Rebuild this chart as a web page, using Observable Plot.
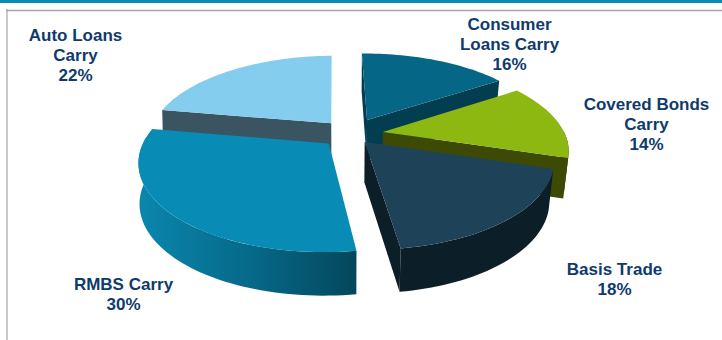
<!DOCTYPE html>
<html>
<head>
<meta charset="utf-8">
<script src="https://cdn.jsdelivr.net/npm/d3@7"></script>
<script src="https://cdn.jsdelivr.net/npm/@observablehq/plot@0.6"></script>
<style>
  html, body { margin: 0; padding: 0; background: #fff; }
  svg { display: block; }
</style>
</head>
<body>
<div id="chart"></div>
<script>
// Portfolio allocation, clockwise from twelve o'clock.
const names = ["Consumer\nLoans Carry", "Covered Bonds\nCarry", "Basis Trade", "RMBS Carry", "Auto Loans\nCarry"];
const shares = [16, 14, 18, 30, 22];
const topColors = ["#056785", "#8DB711", "#1E4257", "#088BB5", "#85CDEE"];
const sideColors = ["#033E50", "#3C4A05", "#0C1E27", "url(#rmbsWall)", "#3A5462"];
const explodeBy = [0.195, 0.18, 0.12, 0.16, 0.17];
const labelX = [509, 646, 614, 123, 75];
const labelY = [43, 123, 278, 293, 54];

// Projection of the tilted pie: ground-plane units to page units.
const cx = 350, cy = 133.5, rx = 182, ry = 84, tilt = 0.19, thickness = 40, startAngle = -1 * Math.PI / 180;
const project = (X, Y, lower = false) => {
  const s = 1 + tilt * Y;
  const px = cx + rx * X / s, py = cy - ry * Y / s;
  return lower
    ? {x: cx + (px - cx) * (px > cx ? 0.977 : 0.995), y: cy + thickness + (py - cy) * 1.03}
    : {x: px, y: py};
};

const total = d3.sum(shares);
const rad = (turn) => turn * 2 * Math.PI;
let running = 0;
const slices = shares.map((v, i) => {
  const a0 = rad(running / total);
  running += v;
  const a1 = rad(running / total);
  const mid = (a0 + a1) / 2;
  return {i, a0, a1, ox: explodeBy[i] * Math.sin(mid), oy: explodeBy[i] * Math.cos(mid)};
});

const rim = (s, a, lower) => project(s.ox + Math.sin(a + startAngle), s.oy + Math.cos(a + startAngle), lower);
const hub = (s, lower) => project(s.ox, s.oy, lower);
const arc = (s, from, to, lower) => {
  const n = Math.max(2, Math.ceil((to - from) / 0.03));
  return d3.range(n + 1).map((k) => rim(s, from + (to - from) * k / n, lower));
};

const face = (points, fill) =>
  Plot.line(points, {x: "x", y: "y", fill, stroke: "none", curve: "linear-closed"});

// Each slice is painted as its visible walls and then its top face.
const sliceMarks = (s) => {
  const side = sideColors[s.i];
  const radial = (a) => face([hub(s), rim(s, a), rim(s, a, true), hub(s, true)], side);
  const marks = [];
  const from = Math.max(s.a0, Math.PI / 2), to = Math.min(s.a1, rad(0.765));
  if (from < to) marks.push(face([...arc(s, from, to), ...arc(s, from, to, true).reverse()], side));
  if (Math.sin(s.a0) <= 1e-9) marks.push(radial(s.a0));
  if (Math.sin(s.a1) > 1e-9) marks.push(radial(s.a1));
  marks.push(face([hub(s), ...arc(s, s.a0, s.a1)], topColors[s.i]));
  return marks;
};

// Back slices first, so the nearer ones overlap them.
const paintOrder = [4, 0, 1, 3, 2];

const labels = slices.map((s) => ({
  text: `${names[s.i]}\n${shares[s.i]}%`,
  x: labelX[s.i],
  y: labelY[s.i]
}));

const chart = Plot.plot({
  width: 722,
  height: 340,
  margin: 0,
  x: {domain: [0, 722], range: [0, 722], axis: null},
  y: {domain: [0, 340], range: [0, 340], axis: null},
  marks: [
    () => {
      const defs = d3.create("svg:defs");
      const g = defs.append("linearGradient").attr("id", "rmbsWall");
      [[0, "#0B86AE"], [0.5, "#066A8A"], [1, "#04475C"]].forEach(([o, c]) =>
        g.append("stop").attr("offset", o).attr("stop-color", c));
      return defs.node();
    },
    Plot.rect([0], {x1: () => 0, x2: () => 722, y1: () => 0, y2: () => 3, fill: "#088BB5"}),
    Plot.ruleY([10], {x1: () => 6, x2: () => 722, stroke: "#A6A6A6", strokeWidth: 1.5}),
    Plot.ruleX([6.5], {y1: () => 9, y2: () => 340, stroke: "#A6A6A6", strokeWidth: 1.2}),
    ...paintOrder.flatMap((i) => sliceMarks(slices[i])),
    Plot.text(labels, {
      x: "x",
      y: "y",
      text: "text",
      fontFamily: "Liberation Sans",
      fontWeight: "bold",
      fontSize: 17,
      lineHeight: 20 / 17,
      fill: "#0F3B6C",
      textAnchor: "middle"
    })
  ]
});
document.getElementById("chart").append(chart);
</script>
</body>
</html>
